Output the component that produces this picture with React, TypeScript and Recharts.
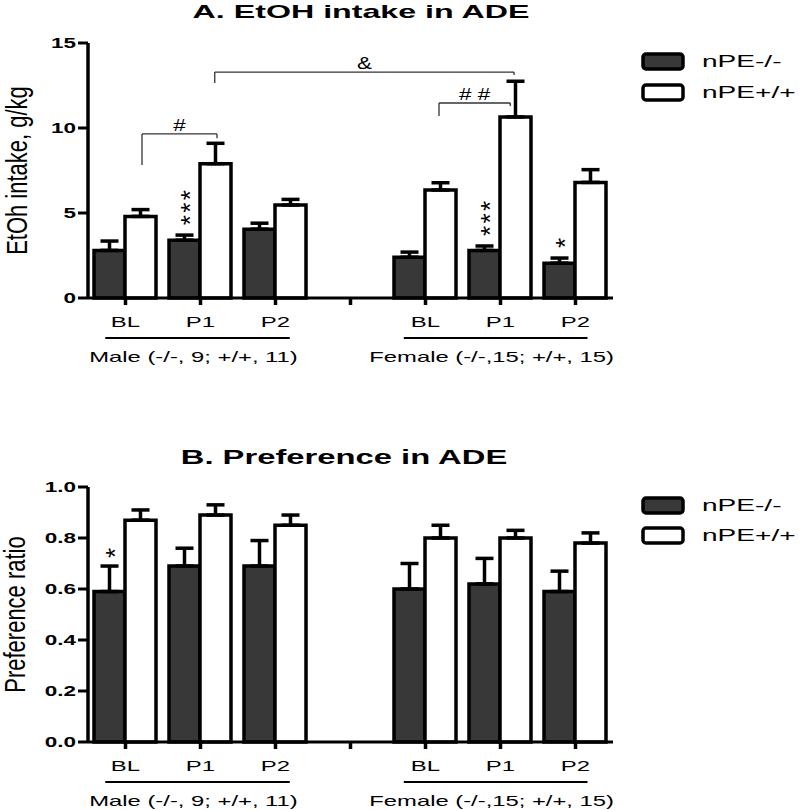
import React from 'react';
import { ComposedChart, Bar, XAxis, YAxis, ErrorBar, ReferenceLine, LabelList, Legend } from 'recharts';

const FONT = '"Liberation Sans", Arial, Helvetica, sans-serif';

// ---- categories / axis ----
const categories = ['BL', 'P1', 'P2', 'BL', 'P1', 'P2'];
const xPositions = [0, 1, 2, 4, 5, 6];
const axisTicks = [0, 1, 2, 3, 4, 5, 6];
const seriesNames = ['nPE-/-', 'nPE+/+'];
const seriesFills = ['#383838', '#ffffff'];

// ---- Panel A: EtOH intake (g/kg) ----
const intakeKO = [2.8, 3.4, 4.05, 2.4, 2.8, 2.05];
const intakeKOErr = [0.55, 0.3, 0.35, 0.3, 0.26, 0.3];
const intakeWT = [4.8, 7.9, 5.47, 6.35, 10.65, 6.8];
const intakeWTErr = [0.4, 1.2, 0.33, 0.43, 2.1, 0.75];
const intakeSig = ['', '***', '', '', '***', '*'];
const intakeTicks = [0, 5, 10, 15];

// brackets (panel A)
const bracketLabels = ['#', '&', '# #'];
const bracketX1 = [0.22, 1.19, 4.18];
const bracketX2 = [1.22, 5.18, 5.13];
const bracketY = [9.65, 13.29, 11.47];
const bracketLeftEnd = [7.82, 12.65, 10.7];
const bracketRightEnd = [9.4, 13.12, 11.3];

// ---- Panel B: preference ratio ----
const prefKO = [0.59, 0.69, 0.69, 0.6, 0.62, 0.59];
const prefKOErr = [0.1, 0.07, 0.1, 0.1, 0.1, 0.08];
const prefWT = [0.87, 0.89, 0.85, 0.8, 0.8, 0.78];
const prefWTErr = [0.04, 0.04, 0.04, 0.05, 0.03, 0.04];
const prefSig = ['*', '', '', '', '', ''];
const prefTicks = [0, 0.2, 0.4, 0.6, 0.8, 1.0];

// ---- groups ----
const groupLabels = ['Male (-/-, 9; +/+, 11)', 'Female (-/-,15; +/+, 15)'];
const groupFrom = [-0.27, 3.71];
const groupTo = [2.19, 6.16];

const makeRows = (ko: number[], koErr: number[], wt: number[], wtErr: number[], sig: string[]) =>
  xPositions.map((x, i) => ({
    x,
    ko: ko[i],
    koErr: [0, koErr[i]],
    wt: wt[i],
    wtErr: [0, wtErr[i]],
    sig: sig[i],
  }));

const tickLabelFor = (v: number) => {
  const i = xPositions.indexOf(v);
  return i >= 0 ? categories[i] : '';
};

function SText({ x, y, sx = 1.6, anchor = 'middle', size = 14, weight = 'normal', children }: any) {
  return (
    <text
      transform={`translate(${x},${y}) scale(${sx},1)`}
      textAnchor={anchor}
      fontSize={size}
      fontWeight={weight}
      fontFamily={FONT}
      fill="#000"
    >
      {children}
    </text>
  );
}

const XTick = (props: any) => {
  const { x, y, payload } = props;
  return (
    <SText x={x} y={y + 22} size={14.5} sx={1.65}>
      {tickLabelFor(payload.value)}
    </SText>
  );
};

const makeYTick = (fmt: (v: number) => string) => (props: any) => {
  const { x, y, payload } = props;
  return (
    <SText x={x} y={y + 5.4} anchor="end" size={15} weight="bold" sx={1.5}>
      {fmt(payload.value)}
    </SText>
  );
};

const LegendBox = (props: any) => {
  const payload: any[] = props.payload || [];
  const items = seriesNames.map((n, i) => {
    const entry = payload.find((e: any) => e && e.value === n);
    return { name: n, fill: entry && entry.color ? entry.color : seriesFills[i] };
  });
  return (
    <div style={{ fontFamily: FONT }}>
      {items.map((it) => (
        <div key={it.name} style={{ display: 'flex', alignItems: 'center', height: props.rowH }}>
          <svg width={44} height={19} style={{ display: 'block' }}>
            <rect x={2} y={2} width={40} height={15} rx={3} fill={it.fill} stroke="#000" strokeWidth={3.5} />
          </svg>
          <span
            style={{
              marginLeft: 17,
              fontSize: 17,
              lineHeight: '17px',
              display: 'inline-block',
              transform: 'scaleX(1.65)',
              transformOrigin: 'left center',
              whiteSpace: 'nowrap',
            }}
          >
            {it.name}
          </span>
        </div>
      ))}
    </div>
  );
};

function Panel(p: any) {
  const rows = makeRows(p.ko, p.koErr, p.wt, p.wtErr, p.sig);
  const StarLabel = (lp: any) => {
    const vb = lp.viewBox || lp;
    const idx = lp.index;
    const val = lp.value;
    if (!val || idx == null || !vb) return null;
    const cx = vb.x + vb.width / 2;
    const ppu = vb.height / p.ko[idx];
    const errTop = vb.y - p.koErr[idx] * ppu;
    const fs = 26;
    const adv = 0.389 * fs;
    const stars = String(val).split('');
    // each star is a separate, quarter-turned glyph stacked upwards
    return (
      <g>
        {stars.map((s, k) => {
          const cy = errTop - p.starGap - k * 12.5;
          return (
            <text
              key={k}
              transform={`translate(${cx + 0.57 * fs},${cy + adv / 2}) rotate(-90)`}
              textAnchor="start"
              fontSize={fs}
              fontFamily={FONT}
              fill="#000"
            >
              {s}
            </text>
          );
        })}
      </g>
    );
  };
  const YTitle = (lp: any) => {
    const vb = lp.viewBox;
    if (!vb) return null;
    const cy = vb.y + vb.height / 2;
    return (
      <text
        transform={`translate(${vb.x + p.yTitleX},${cy}) scale(1.33,1) rotate(-90)`}
        textAnchor="middle"
        fontSize={22}
        fontFamily={FONT}
        fill="#000"
      >
        {p.yTitle}
      </text>
    );
  };
  return (
    <ComposedChart width={800} height={405} data={rows} margin={p.margin} barGap={0}>
      <XAxis
        dataKey="x"
        type="number"
        domain={[-0.5, 6.5]}
        ticks={axisTicks}
        interval={0}
        height={30}
        tickSize={7}
        tickMargin={0}
        axisLine={{ stroke: '#000', strokeWidth: 3 }}
        tickLine={{ stroke: '#000', strokeWidth: 3.5 }}
        tick={<XTick />}
      />
      <YAxis
        type="number"
        domain={p.yDomain}
        ticks={p.yTicks}
        interval={0}
        width={88}
        tickSize={10}
        tickMargin={2}
        axisLine={{ stroke: '#000', strokeWidth: 3.5 }}
        tickLine={{ stroke: '#000', strokeWidth: 3 }}
        tick={makeYTick(p.yFmt)}
        label={{ content: (lp: any) => <YTitle {...lp} /> }}
      />
      <Legend
        layout="horizontal"
        verticalAlign="middle"
        align="center"
        width={160}
        wrapperStyle={{ left: 641, top: p.legendTop, width: 160 }}
        content={(lp: any) => <LegendBox {...lp} rowH={p.legendRow} />}
      />
      <Bar
        dataKey="ko"
        name={seriesNames[0]}
        fill={seriesFills[0]}
        stroke="#000"
        strokeWidth={3.5}
        barSize={31}
        isAnimationActive={false}
      >
        <ErrorBar dataKey="koErr" direction="y" width={9} stroke="#000" strokeWidth={3.5} />
        <LabelList dataKey="sig" content={(lp: any) => <StarLabel {...lp} />} />
      </Bar>
      <Bar
        dataKey="wt"
        name={seriesNames[1]}
        fill={seriesFills[1]}
        stroke="#000"
        strokeWidth={3.5}
        barSize={31}
        isAnimationActive={false}
      >
        <ErrorBar dataKey="wtErr" direction="y" width={9} stroke="#000" strokeWidth={3.5} />
      </Bar>
      {groupLabels.map((g, i) => (
        <ReferenceLine
          key={'grp' + i}
          ifOverflow="visible"
          segment={[
            { x: groupFrom[i], y: 0 },
            { x: groupTo[i], y: 0 },
          ]}
          shape={(sp: any) => (
            <g>
              <line x1={sp.x1} y1={sp.y1 + 40} x2={sp.x2} y2={sp.y2 + 40} stroke="#000" strokeWidth={2.2} />
              <SText x={(sp.x1 + sp.x2) / 2 - 4} y={sp.y1 + 64} size={14} sx={1.7}>
                {g}
              </SText>
            </g>
          )}
        />
      ))}
      {p.brackets &&
        bracketLabels.map((lab, i) => (
          <ReferenceLine
            key={'bh' + i}
            ifOverflow="visible"
            segment={[
              { x: bracketX1[i], y: bracketY[i] },
              { x: bracketX2[i], y: bracketY[i] },
            ]}
            shape={(sp: any) => (
              <g>
                <line x1={sp.x1} y1={sp.y1} x2={sp.x2} y2={sp.y2} stroke="#333" strokeWidth={1.3} />
                <SText x={(sp.x1 + sp.x2) / 2} y={sp.y1 - 3} size={16} sx={1.4}>
                  {lab}
                </SText>
              </g>
            )}
          />
        ))}
      {p.brackets &&
        bracketLabels.map((lab, i) => (
          <ReferenceLine
            key={'bl' + i}
            ifOverflow="visible"
            stroke="#333"
            strokeWidth={1.3}
            segment={[
              { x: bracketX1[i], y: bracketY[i] },
              { x: bracketX1[i], y: bracketLeftEnd[i] },
            ]}
          />
        ))}
      {p.brackets &&
        bracketLabels.map((lab, i) => (
          <ReferenceLine
            key={'br' + i}
            ifOverflow="visible"
            stroke="#333"
            strokeWidth={1.3}
            segment={[
              { x: bracketX2[i], y: bracketY[i] },
              { x: bracketX2[i], y: bracketRightEnd[i] },
            ]}
          />
        ))}
    </ComposedChart>
  );
}

const titleStyle = (cx: number, top: number, fs: number, sx: number): React.CSSProperties => ({
  position: 'absolute',
  left: cx,
  top,
  fontSize: fs,
  lineHeight: fs + 'px',
  fontWeight: 'bold',
  fontFamily: FONT,
  whiteSpace: 'nowrap',
  transform: `translateX(-50%) scaleX(${sx})`,
  color: '#000',
});

export default function App() {
  return (
    <div style={{ position: 'absolute', left: 0, top: 0, width: 800, height: 810, background: '#fff', fontFamily: FONT }}>
      <div style={{ position: 'absolute', left: 0, top: 0 }}>
        <Panel
          ko={intakeKO}
          koErr={intakeKOErr}
          wt={intakeWT}
          wtErr={intakeWTErr}
          sig={intakeSig}
          yDomain={[0, 15]}
          yTicks={intakeTicks}
          yFmt={(v: number) => String(v)}
          yTitle="EtOh intake, g/kg"
          yTitleX={27}
          margin={{ top: 43, right: 187, bottom: 77, left: 0 }}
          legendTop={46}
          legendRow={31}
          starGap={15}
          brackets
        />
      </div>
      <div style={{ position: 'absolute', left: 0, top: 405 }}>
        <Panel
          ko={prefKO}
          koErr={prefKOErr}
          wt={prefWT}
          wtErr={prefWTErr}
          sig={prefSig}
          yDomain={[0, 1]}
          yTicks={prefTicks}
          yFmt={(v: number) => v.toFixed(1)}
          yTitle="Preference ratio"
          yTitleX={25}
          margin={{ top: 82, right: 187, bottom: 38, left: 0 }}
          legendTop={85}
          legendRow={30}
          starGap={13}
          brackets={false}
        />
      </div>
      <div style={titleStyle(361, 2.6, 18.5, 1.74)}>A. EtOH intake in ADE</div>
      <div style={titleStyle(344, 446, 21, 1.56)}>B. Preference in ADE</div>
    </div>
  );
}
